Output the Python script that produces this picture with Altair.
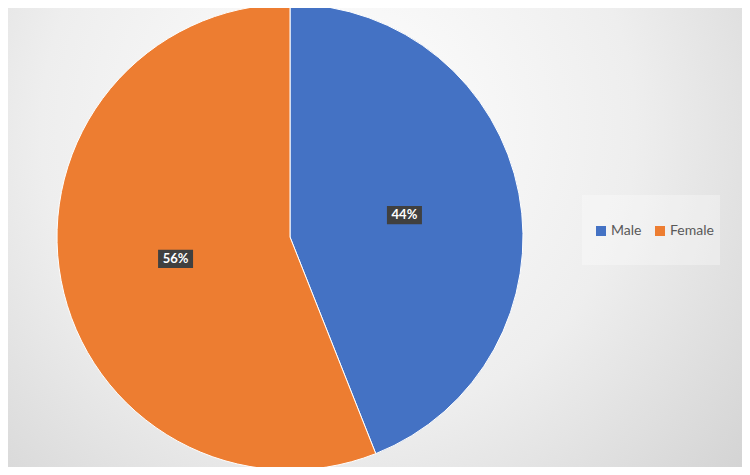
import altair as alt
import pandas as pd

categories = ["Male", "Female"]
values = [44, 56]
colors = ["#4472C4", "#ED7D31"]
order = [0, 1]

W, H = 734, 459
CX, CY, R = 282, 229, 233

df = pd.DataFrame({"category": categories, "value": values, "order": order})
one = pd.DataFrame({"a": [0]})

bg = alt.Chart(one).mark_rect(
    fill={
        "gradient": "radial",
        "x1": 0.45, "y1": 0.35, "r1": 0,
        "x2": 0.45, "y2": 0.35, "r2": 0.9,
        "stops": [
            {"offset": 0, "color": "#ffffff"},
            {"offset": 0.45, "color": "#eeeeee"},
            {"offset": 0.85, "color": "#d0d0d0"},
            {"offset": 1, "color": "#cacaca"},
        ],
    }
).encode(x=alt.value(0), x2=alt.value(W), y=alt.value(0), y2=alt.value(H))

legbox = alt.Chart(one).mark_rect(fill="#ffffff", opacity=0.3).encode(
    x=alt.value(574), x2=alt.value(712), y=alt.value(187), y2=alt.value(257)
)

pie = alt.Chart(df).mark_arc(outerRadius=R, stroke="#ffffff", strokeWidth=1).encode(
    theta=alt.Theta("value:Q", stack=True),
    order=alt.Order("order:Q"),
    color=alt.Color(
        "category:N",
        scale=alt.Scale(domain=categories, range=colors),
        sort=categories,
        legend=alt.Legend(
            title=None,
            orient="none",
            legendX=586,
            legendY=216,
            direction="horizontal",
            symbolType="square",
            symbolSize=100,
            symbolStrokeWidth=0,
            labelFont="Lato",
            labelFontSize=14,
            labelColor="#595959",
            labelOffset=3,
            columnPadding=11,
            padding=0,
        ),
    ),
    x=alt.value(CX),
    y=alt.value(CY),
)

base = alt.Chart(df).transform_joinaggregate(
    total="sum(value)"
).transform_window(
    cum="sum(value)", sort=[alt.SortField("order")]
).transform_calculate(
    mid="(datum.cum - datum.value/2) / datum.total * 2 * PI",
    lx="0.5 * sin(datum.mid)",
    ly="0.5 * cos(datum.mid)",
    label="datum.value + '%'",
)

xs = alt.Scale(domain=[-1, 1], range=[CX - R, CX + R])
ys = alt.Scale(domain=[-1, 1], range=[CY + R, CY - R])

boxes = base.mark_point(
    shape="M-1,-0.52H1V0.52H-1Z", size=1225, filled=True, fill="#404040", opacity=1, strokeWidth=0
).encode(
    x=alt.X("lx:Q", scale=xs, axis=None),
    y=alt.Y("ly:Q", scale=ys, axis=None),
)

labels = base.mark_text(
    color="#ffffff", font="Lato", fontWeight="bold", fontSize=13, baseline="middle", align="center"
).encode(
    x=alt.X("lx:Q", scale=xs, axis=None),
    y=alt.Y("ly:Q", scale=ys, axis=None),
    text="label:N",
)

chart = alt.layer(bg, legbox, pie, boxes, labels).properties(
    width=W, height=H, padding=0, autosize=alt.AutoSizeParams(type="none"),
    background="#ffffff",
).configure_view(stroke=None)

chart.save("out.html", embed_options={"renderer": "svg", "actions": False})
